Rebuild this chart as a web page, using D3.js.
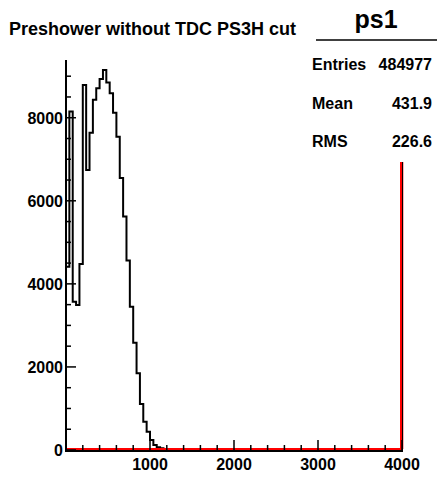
<!DOCTYPE html>
<html>
<head>
<meta charset="utf-8">
<script src="https://cdn.jsdelivr.net/npm/d3@7"></script>
<style>
    body { margin: 0; background: #fff; }
    text { font-family: "Liberation Sans", Arial, sans-serif; font-weight: bold; }
</style>
</head>
<body>
<div id="graphContainer"></div>
<script>
// histogram contents (bin width 40, starting at 0)
var binWidth = 40;
var blackCounts = [4410, 8150, 3570, 3490, 4480, 8790, 6740, 7640, 8430, 8710,
                   8930, 9150, 8850, 8590, 8120, 7540, 6550, 5620, 4560, 3450,
                   2580, 1850, 1110, 680, 440, 240, 120, 65, 40, 17,
                   8, 4];
// saturated bin sitting right at the end of the range (off scale)
var satBinLow = 4000,
    blackSat = 52000,
    redSat = 52000;

var xTicks = [1000, 2000, 3000, 4000];
var yTicks = [0, 2000, 4000, 6000, 8000];
var statsRows = [["Entries", "484977"], ["Mean", "431.9"], ["RMS", "226.6"]];

var width = 437,
    height = 477;

var svg = d3.select("#graphContainer").append("svg")
    .attr("width", width)
    .attr("height", height);

var margin = {top: 60, left: 66, bottom: 27, right: 35};

var x = d3.scaleLinear().domain([0, 4000]).range([margin.left, width - margin.right]);
var y = d3.scaleLinear().domain([0, 9390]).range([height - margin.bottom, margin.top]).clamp(true);

//build the step outline of a histogram from a list of bin counts
function histPath(counts, satCount) {
    var pts = [[x(0), y(0)]];
    var nBins = satBinLow / binWidth;
    for (var i = 0; i < nBins; i++) {
        var v = i < counts.length ? counts[i] : 0;
        pts.push([x(i * binWidth), y(v)]);
        pts.push([x((i + 1) * binWidth), y(v)]);
    }
    pts.push([x(satBinLow), y(satCount)]);
    pts.push([x(satBinLow + binWidth), y(satCount)]);
    pts.push([x(satBinLow + binWidth), y(0)]);
    return d3.line()(pts);
}

svg.append("clipPath").attr("id", "frameClip")
    .append("rect")
    .attr("x", x(0) - 2)
    .attr("y", y.range()[1])
    .attr("width", x(4000) - x(0) + 3.5)
    .attr("height", y(0) - y.range()[1] + 3);

var plot = svg.append("g").attr("clip-path", "url(#frameClip)");

plot.append("path")
    .attr("d", histPath(blackCounts, blackSat))
    .attr("fill", "none")
    .attr("stroke", "#000")
    .attr("stroke-width", 2);

//second histogram in red, empty except for the saturated bin
plot.append("path")
    .attr("d", histPath([], redSat))
    .attr("transform", "translate(-1,-1)")
    .attr("fill", "none")
    .attr("stroke", "#ff0000")
    .attr("stroke-width", 2);

//axes, ROOT style: ticks pointing into the frame
var xg = svg.append("g").attr("transform", "translate(0," + (y(0) + 1) + ")");
xg.append("line")
    .attr("x1", x(0) - 1).attr("x2", x(4000) + 1)
    .attr("stroke", "#000").attr("stroke-width", 2);
xg.selectAll(".xtick").data(d3.range(200, 4001, 200)).enter().append("line")
    .attr("x1", function (d) { return x(d); })
    .attr("x2", function (d) { return x(d); })
    .attr("y1", 0)
    .attr("y2", function (d) { return d % 1000 === 0 ? -11 : -6; })
    .attr("stroke", "#000").attr("stroke-width", 1.5);
xg.selectAll(".xlab").data(xTicks).enter().append("text")
    .attr("x", function (d) { return x(d); })
    .attr("y", 19)
    .attr("text-anchor", "middle")
    .attr("font-size", 16)
    .text(function (d) { return d; });

var yg = svg.append("g").attr("transform", "translate(" + x(0) + ",0)");
yg.append("line")
    .attr("y1", y.range()[1]).attr("y2", y(0) + 2)
    .attr("stroke", "#000").attr("stroke-width", 2);
yg.selectAll(".ytick").data(d3.range(0, 9390, 500)).enter().append("line")
    .attr("y1", function (d) { return y(d); })
    .attr("y2", function (d) { return y(d); })
    .attr("x1", -1)
    .attr("x2", function (d) { return d % 2000 === 0 ? 10 : 5; })
    .attr("stroke", "#000").attr("stroke-width", 1.5);
yg.selectAll(".ylab").data(yTicks).enter().append("text")
    .attr("x", -3)
    .attr("y", function (d) { return y(d) + 6; })
    .attr("text-anchor", "end")
    .attr("font-size", 16)
    .text(function (d) { return d; });

//stats box
var stats = svg.append("g");
stats.append("rect")
    .attr("x", 316).attr("y", 40)
    .attr("width", width - 316).attr("height", 122)
    .attr("fill", "#fff");
stats.append("line")
    .attr("x1", 316).attr("x2", width)
    .attr("y1", 40).attr("y2", 40)
    .attr("stroke", "#000").attr("stroke-width", 1.5);
stats.append("text")
    .attr("x", 376).attr("y", 28)
    .attr("text-anchor", "middle")
    .attr("font-size", 25)
    .text("ps1");
stats.selectAll(".slab").data(statsRows).enter().append("text")
    .attr("x", 312)
    .attr("y", function (d, i) { return 70 + i * 38.5; })
    .attr("font-size", 16)
    .text(function (d) { return d[0]; });
stats.selectAll(".sval").data(statsRows).enter().append("text")
    .attr("x", 432)
    .attr("y", function (d, i) { return 70 + i * 38.5; })
    .attr("text-anchor", "end")
    .attr("font-size", 16)
    .text(function (d) { return d[1]; });

//title
svg.append("text")
    .attr("x", 9).attr("y", 35)
    .attr("font-size", 18)
    .text("Preshower without TDC PS3H cut");
</script>
</body>
</html>
